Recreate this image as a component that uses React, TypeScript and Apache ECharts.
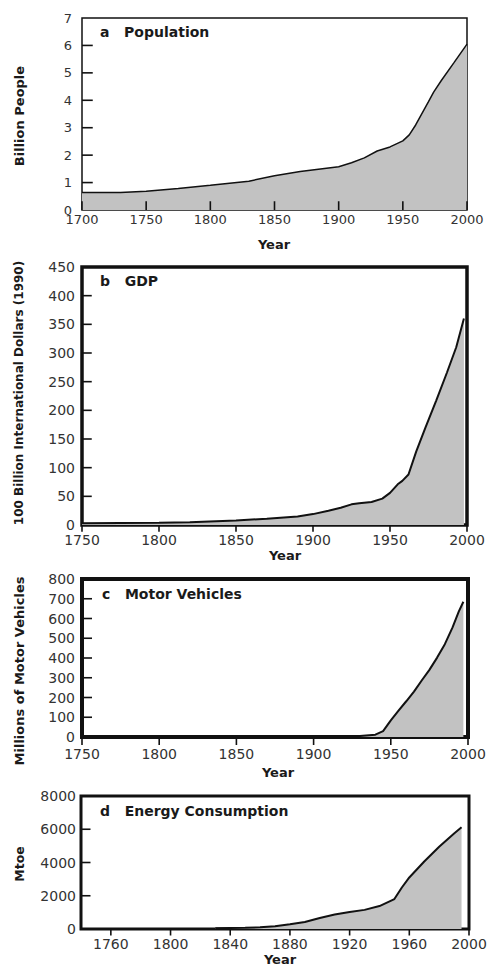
import React, { useEffect, useRef } from "react";
import * as echarts from "echarts";

// ---- Data ----
const popYears = [1700, 1730, 1750, 1775, 1800, 1830, 1850, 1870, 1900, 1910, 1920, 1930, 1940, 1950, 1955, 1960, 1970, 1974, 1980, 1990, 2000];
const popValues = [0.64, 0.64, 0.68, 0.78, 0.9, 1.05, 1.25, 1.4, 1.58, 1.72, 1.9, 2.15, 2.3, 2.52, 2.74, 3.1, 3.95, 4.3, 4.72, 5.38, 6.05];

const gdpYears = [1750, 1800, 1820, 1850, 1870, 1890, 1900, 1910, 1918, 1925, 1930, 1938, 1945, 1950, 1955, 1958, 1962, 1967, 1973, 1980, 1987, 1993, 1998];
const gdpValues = [3, 4, 5, 8, 11, 15, 19, 25, 30, 36, 38, 40, 46, 56, 71, 77, 88, 128, 170, 217, 266, 310, 360];

const vehYears = [1750, 1900, 1920, 1930, 1940, 1945, 1950, 1955, 1960, 1965, 1970, 1975, 1980, 1985, 1990, 1994, 1997];
const vehValues = [0, 0, 2, 5, 12, 30, 84, 133, 181, 230, 286, 340, 402, 470, 555, 635, 685];

const energyYears = [1830, 1840, 1850, 1860, 1870, 1880, 1890, 1900, 1910, 1920, 1930, 1940, 1950, 1955, 1960, 1970, 1980, 1990, 1995];
const energyValues = [40, 55, 70, 100, 170, 280, 420, 660, 870, 1020, 1150, 1380, 1800, 2495, 3100, 4060, 4950, 5750, 6120];

// tick values (labels come from the axes)
const popXTicks = [1700, 1750, 1800, 1850, 1900, 1950, 2000];
const popYTicks = [1, 2, 3, 4, 5, 6];
const gdpXTicks = [1750, 1800, 1850, 1900, 1950, 2000];
const gdpYTicks = [50, 100, 150, 200, 250, 300, 350, 400];
const vehXTicks = [1750, 1800, 1850, 1900, 1950, 2000];
const vehYTicks = [100, 200, 300, 400, 500, 600, 700];
const energyXTicks = [1760, 1800, 1840, 1880, 1920, 1960, 2000];
const energyYTicks = [2000, 4000, 6000];

const panelTitles = ["a   Population", "b   GDP", "c   Motor Vehicles", "d   Energy Consumption"];
const yNames = ["Billion People", "100 Billion International Dollars (1990)", "Millions of Motor Vehicles", "Mtoe"];
const xName = "Year";

const zip = (xs: number[], ys: number[]) => xs.map((x, i) => [x, ys[i]]);

export default function App() {
  const ref = useRef<HTMLDivElement>(null);
  useEffect(() => {
    document.body.style.margin = "0";
    if (!ref.current) return;
    const chart = echarts.init(ref.current, undefined, { renderer: "svg" });
    const FONT = "DejaVu Sans";
    const labelColor = "#333";
    const fmt = (v: number) => String(v);
    const borders = [1.5, 3.5, 4, 3];
    const grids = [
      { left: 82, top: 18, width: 385, height: 192 },
      { left: 82, top: 267, width: 385, height: 258 },
      { left: 82, top: 579, width: 386, height: 158 },
      { left: 81, top: 796, width: 388, height: 133 },
    ].map((g, i) => ({ ...g, show: true, borderColor: "#111", borderWidth: borders[i], backgroundColor: "transparent", containLabel: false }));

    const ranges = [
      { xMin: 1700, xMax: 2000, yMin: 0, yMax: 7, yInt: 1 },
      { xMin: 1750, xMax: 2000, yMin: 0, yMax: 450, yInt: 50 },
      { xMin: 1750, xMax: 2000, yMin: 0, yMax: 800, yInt: 100 },
      { xMin: 1740, xMax: 2000, yMin: 0, yMax: 8000, yInt: 2000 },
    ];
    const xLabelCfg = [
      { fontSize: 13, margin: 3 },
      { fontSize: 14, margin: 8 },
      { fontSize: 14, margin: 10 },
      { fontSize: 14, margin: 8 },
    ];
    const yLabelCfg = [
      { fontSize: 13, margin: 10 },
      { fontSize: 14, margin: 7 },
      { fontSize: 14, margin: 7 },
      { fontSize: 14, margin: 5 },
    ];
    const xTickVals = [popXTicks, gdpXTicks, vehXTicks, energyXTicks];
    const yTickVals = [popYTicks, gdpYTicks, vehYTicks, energyYTicks];

    const xAxis = ranges.map((r, i) => ({
      type: "value",
      gridIndex: i,
      min: r.xMin,
      max: r.xMax,
      ...(i === 3 ? {} : { interval: 50 }),
      axisLine: { show: false },
      splitLine: { show: false },
      axisTick: { show: false },
      axisLabel: {
        color: labelColor, fontFamily: FONT, formatter: fmt, ...xLabelCfg[i],
        ...(i === 3 ? { customValues: energyXTicks } : {}),
      },
    }));
    const yAxis = ranges.map((r, i) => ({
      type: "value",
      gridIndex: i,
      min: r.yMin,
      max: r.yMax,
      interval: r.yInt,
      axisLine: { show: false },
      splitLine: { show: false },
      axisTick: { show: false },
      axisLabel: { color: labelColor, fontFamily: FONT, formatter: fmt, ...yLabelCfg[i] },
    }));

    const mk = (i: number, xs: number[], ys: number[], w: number) => ({
      type: "line",
      xAxisIndex: i,
      yAxisIndex: i,
      data: zip(xs, ys),
      symbol: "none",
      smooth: false,
      lineStyle: { color: "#111", width: w },
      areaStyle: { color: "#c2c2c2", opacity: 1, origin: "start" },
    });

    chart.setOption({
      animation: false,
      grid: grids,
      xAxis,
      yAxis,
      series: [
        mk(0, popYears, popValues, 1.5),
        mk(1, gdpYears, gdpValues, 2),
        mk(2, vehYears, vehValues, 2),
        mk(3, energyYears, energyValues, 2),
      ],
    });

    const titlePos = [
      [100, 32],
      [100, 281],
      [102, 594],
      [100, 811],
    ];
    const yNamePos = [
      [19, 116, 13],
      [19, 393, 12],
      [19, 671, 13],
      [19, 864, 12.5],
    ];
    const xNamePos = [
      [274, 244],
      [285, 555],
      [278, 772],
      [280, 959],
    ];

    const graphic: any[] = [];
    panelTitles.forEach((t, i) => {
      graphic.push({
        type: "text",
        x: titlePos[i][0],
        y: titlePos[i][1],
        z: 100,
        style: { text: t, fill: "#1a1a1a", font: `bold 14px '${FONT}'`, align: "left", verticalAlign: "middle" },
      });
    });
    yNames.forEach((t, i) => {
      graphic.push({
        type: "text",
        x: yNamePos[i][0],
        y: yNamePos[i][1],
        rotation: Math.PI / 2,
        z: 100,
        style: { text: t, fill: "#1a1a1a", font: `bold ${yNamePos[i][2]}px '${FONT}'`, align: "center", verticalAlign: "middle" },
      });
    });
    xNamePos.forEach((p) => {
      graphic.push({
        type: "text",
        x: p[0],
        y: p[1],
        z: 100,
        style: { text: xName, fill: "#1a1a1a", font: `bold 13px '${FONT}'`, align: "center", verticalAlign: "middle" },
      });
    });

    // tick marks: positions obtained from the axes' own scales
    const xTickDir = [-8, 5, 6, 5]; // negative = inside (upwards)
    const yTickLen = [10, 8, 8, 8];
    ranges.forEach((r, i) => {
      yTickVals[i].forEach((v) => {
        const p = chart.convertToPixel({ gridIndex: i }, [r.xMin, v]) as number[];
        if (!p) return;
        graphic.push({
          type: "line",
          z: 50,
          silent: true,
          shape: { x1: p[0], y1: p[1], x2: p[0] + yTickLen[i] + borders[i] / 2, y2: p[1] },
          style: { stroke: "#111", lineWidth: 1.6 },
        });
      });
      xTickVals[i].forEach((v) => {
        const p = chart.convertToPixel({ gridIndex: i }, [v, r.yMin]) as number[];
        if (!p) return;
        const d = xTickDir[i] + (xTickDir[i] > 0 ? borders[i] / 2 : -borders[i] / 2);
        graphic.push({
          type: "line",
          z: 50,
          silent: true,
          shape: { x1: p[0], y1: p[1], x2: p[0], y2: p[1] + d },
          style: { stroke: "#111", lineWidth: 1.6 },
        });
      });
    });

    chart.setOption({ graphic });
    return () => chart.dispose();
  }, []);
  return <div ref={ref} style={{ width: 493, height: 966 }} />;
}
